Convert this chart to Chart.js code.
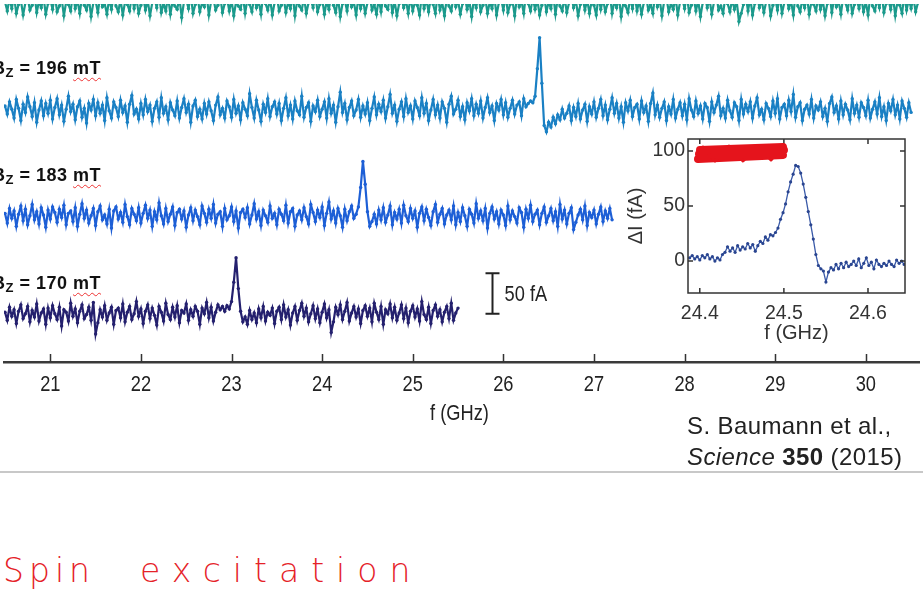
<!DOCTYPE html>
<html>
<head>
<meta charset="utf-8">
<script src="https://cdn.jsdelivr.net/npm/chart.js@4.4.0/dist/chart.umd.min.js"></script>
<style>
  html, body { margin: 0; padding: 0; background: #fff; overflow: hidden; }
  #wrap { position: relative; width: 923px; height: 591px; }
  canvas { position: absolute; }
  #main { left: 0; top: 0; }
  #inset { left: 610px; top: 130px; }
  .field { position: absolute; left: -8px; font: bold 18px 'Liberation Sans', Arial, sans-serif; line-height: 18px; letter-spacing: 0.5px; color: #111; white-space: nowrap; }
  .field sub { font-size: 13px; vertical-align: -3px; }
  .field .u { text-decoration: underline wavy #e33; text-decoration-thickness: 1px; text-underline-offset: 3px; }
  .cite { position: absolute; left: 687px; font: 24px 'Liberation Sans', Arial, sans-serif; line-height: 24px; letter-spacing: 0.4px; color: #222; white-space: nowrap; }
  #rule { position: absolute; left: 0; top: 471px; width: 923px; height: 2px; background: #c8c8c8; }
  .hand { position: absolute; top: 554px; font: 200 33px 'DejaVu Sans ExtraLight', 'DejaVu Sans', sans-serif; line-height: 33px; color: #e52228; white-space: nowrap; }
</style>
</head>
<body>
<div id="wrap">
  <canvas id="main" width="923" height="430"></canvas>
  <canvas id="inset" width="313" height="220"></canvas>
  <div class="field" style="top:59px">B<sub>Z</sub> = 196 <span class="u">mT</span></div>
  <div class="field" style="top:166px">B<sub>Z</sub> = 183 <span class="u">mT</span></div>
  <div class="field" style="top:274px">B<sub>Z</sub> = 170 <span class="u">mT</span></div>
  <div class="cite" style="top:414px">S. Baumann et al.,</div>
  <div class="cite" style="top:445px"><i>Science</i> <b>350</b> (2015)</div>
  <div id="rule"></div>
  <div class="hand" style="left:3px;letter-spacing:5px">Spin</div>
  <div class="hand" style="left:140px;letter-spacing:12px">excitation</div>
</div>
<script>
// frequency grid of the stacked traces (GHz)
const fStep = 0.025;
const fStart = 20.5;

// trace deviations in fA, one array per field (top trace is cut off)
const traceTop = [
  5, -6, 9, -3, 12, -9, 2, 7, -11, 4, 10, -5, 1, 14, -8, 6, -2, 11, -10, 3,
  8, -4, 13, -7, 0, 9, -12, 5, 2, -6, 15, -3, 7, -9, 11, 1, -5, 10, -13, 4,
  6, -8, 12, -1, 3, -10, 9, -4, 14, 0, -7, 8, -11, 5, 2, -6, 13, -3, 10, -9,
  1, 11, -5, 7, -12, 4, 9, -2, 15, -8, 3, -6, 12, -10, 6, 0, -4, 10, -14, 5,
  8, -3, 13, -9, 2, 11, -7, 4, -1, 14, -11, 6, 9, -5, 1, 12, -8, 3, 10, -6,
  7, -12, 5, 0, -4, 13, -9, 8, 2, -7, 11, -2, 6, -10, 15, 3, -5, 9, -11, 4,
  12, -6, 1, 10, -8, 5, -3, 14, -12, 7, 0, -5, 11, -9, 4, 8, -2, 13, -7, 2,
  9, -10, 6, -4, 15, 1, -8, 11, -13, 3, 7, -6, 12, -1, 5, -11, 10, -3, 8, -9,
  4, 13, -5, 2, -10, 9, -7, 12, 0, -4, 14, -8, 6, -12, 3, 10, -2, 7, -9, 11,
  -6, 5, 1, -11, 13, -3, 8, -7, 10, 2, -9, 15, -5, 4, -12, 9, 0, -6, 12, -1,
  7, -10, 3, 11, -4, 6, -13, 8, -2, 14, -7, 1, 10, -9, 5, -3, 12, -11, 4, 9,
  -5, 13, -8, 2, 7, -12, 11, -1, 6, -9, 15, 3, -6, 10, -4, 8, -11, 1, 12, -7,
  5, -3, 14, -10, 9, 0, -6, 11, -8, 4, 13, -2, 7, -12, 2, 10, -5, 8, -9, 6,
  1, -11, 12, -4, 9, -7, 3, 15, -9, 6, -2, 11, -13, 5, 0, -8, 10, -3, 13, -6,
  7, -10, 4, 12, -5, 2, -9, 14, -1, 8, -12, 6, 10, -7, 3, -4, 11, -11, 5, 9,
  -3, 13, -8, 1, 10, -6, 7, -13, 4, 12, -2, 9, -10, 5, 15, -5, 0, -9, 11, 3,
  -7, 8, -4, 6, -19, -9, 2, 12, -6, 10, -11, 3, 14, -2, 7, -8, 5, 11, -12, 1,
  9, -5, 13, -9, 4, 10, -3, 6, -11, 15, 0, -7, 8, -2, 12, -10, 5, 2, -6, 11,
  -4, 7, -12, 3, 14, -8, 9, -1, 6, -10, 11, 4, -5, 13, -9, 2, 8, -3, 10, -7,
  5, -11, 12, 0, -6, 9, -2, 15, -8, 3, 7, -4, 11, -12, 6, 1, -9, 13, -5, 8,
  -3, 10, -7, 4, 12
];
const trace196 = [
  6, -4, 11, 2, -9, 14, 3, -12, 8, -2, 17, 5, -7, 10, -14, 1, 12, -6, 9, -3,
  13, -10, 4, 15, -5, 7, -13, 2, 18, -1, 8, -11, 5, 12, -8, 3, -15, 9, 1, 14,
  -6, 10, -3, 7, -12, 16, 0, -9, 11, 4, -7, 13, -2, 6, -14, 8, 19, -4, 2, -10,
  9, -5, 14, -1, 7, -13, 3, 11, -8, 16, -3, 5, -11, 10, 1, -6, 12, -9, 4, 15,
  -2, 8, -14, 6, 13, -7, 2, -10, 9, -4, 11, 0, -12, 7, 17, -5, 3, -9, 12, 5,
  -8, 14, -3, 6, -11, 10, 2, -6, 21, 4, -9, 13, 1, -13, 8, -2, 15, -7, 5, 11,
  -4, 9, -12, 3, 16, -6, 7, -10, 12, 0, -5, 18, -8, 4, 10, -13, 6, -1, 13, -7,
  2, 11, -9, 15, -3, 7, -14, 5, 23, -2, 9, -11, 4, 12, -6, 1, 14, -8, 6, -4,
  10, -12, 3, 17, -5, 8, -1, 13, -9, 5, 20, -3, 7, -13, 2, 11, -7, 15, -2, 6,
  -10, 12, 4, -6, 16, -3, 9, -12, 1, 14, -5, 7, -9, 11, 3, -14, 8, 18, -4, 2,
  13, -7, 5, -11, 10, 0, 15, -6, 8, -3, 12, -9, 4, 16, -2, 6, -12, 9, 1, 14,
  -5, 10, -8, 3, 13, -4, 7, 11, -6, 15, 5, 9, 12, 10, 18, 52, 90, 34, -18, -26,
  -14, -20, -8, -16, -5, -11, 2, -9, -3, 6, -12, 4, -7, 9, -10, 1, 8, -13, 5, -4,
  11, -8, 3, 14, -6, 7, -11, 2, 16, -3, 9, -9, 5, -14, 10, 0, 13, -7, 4, 8,
  -10, 12, -2, 6, -13, 9, 22, -5, 7, -8, 3, 11, -12, 5, -4, 14, -9, 2, 10, -6,
  8, -11, 15, 1, -7, 12, -3, 6, -10, 9, 4, -13, 11, -2, 7, 18, -6, 3, -9, 13,
  0, -8, 10, 5, -12, 14, -4, 8, -1, 11, -9, 6, 16, -5, 2, -11, 9, 3, -7, 12,
  -3, 15, -10, 4, 8, -6, 13, -1, 20, -8, 5, 10, -12, 2, 7, -4, 14, -9, 6, 1,
  11, -7, 3, -13, 9, 17, -2, 6, -10, 12, -5, 8, 1, -11, 15, -3, 7, -8, 10, 4,
  -6, 13, -9, 2, 11, -4, 16, -7, 5, -12, 9, 0, 14, -5, 7, -10, 12, 3, -8, 10,
  -2
];
const trace183 = [
  4, -8, 10, -2, 7, -12, 3, 13, -5, 9, -10, 1, 15, -4, 6, -9, 11, 2, -13, 8,
  -3, 12, 5, -7, 9, -1, 14, -10, 4, 7, -6, 11, -12, 3, 16, -2, 8, -8, 1, 10,
  -11, 6, 13, -4, 2, -9, 9, -14, 7, 12, -3, 5, -7, 15, 0, -10, 10, 3, -5, 11,
  -8, 4, 14, -2, 8, -12, 6, -4, 17, 1, -9, 10, -6, 3, 12, -11, 5, 9, -3, 7,
  -13, 2, 11, -5, 8, 0, -10, 13, 4, -7, 9, -2, 15, -8, 3, 6, -12, 10, -4, 1,
  12, -6, 7, -14, 5, 9, -1, 11, -9, 2, 16, -3, 6, -11, 8, 1, -7, 13, -2, 4,
  -10, 9, 3, -5, 14, -8, 6, 10, -12, 2, 7, -4, 11, 0, -9, 15, 5, -6, 8, -1,
  12, -11, 4, 18, -3, 7, -8, 10, 1, -13, 9, -5, 6, 13, -2, 3, 12, 36, 68, 40,
  6, -12, -6, 3, -9, 8, -4, 11, -7, 2, 13, -10, 5, -3, 9, -8, 14, 1, -6, 10,
  -2, 7, -13, 4, 12, -5, 9, -1, -11, 6, 15, -7, 3, 10, -9, 2, 8, -4, 13, -10,
  5, -6, 11, 1, -12, 9, 3, -8, 16, -2, 7, -5, 10, -14, 4, 12, -3, 6, -9, 8,
  2, -11, 13, -4, 7, 0, -8, 11, 5, -13, 9, -2, 14, -6, 3, 8, -10, 4, 12, -7,
  1, 10, -5, 6, -12, 15, -3, 8, -9, 4, 11, -16, -7, 2, 9, -4, 13, -11, 5, -1,
  8, -9, 3, 12, -6, 7, -2, 10, -4
];
const trace170 = [
  3, -7, 9, -2, 6, -11, 4, 12, -5, 1, 10, -9, 5, -3, 13, -8, 2, 7, -12, 8,
  -4, 11, 1, -6, 9, -14, 6, 3, -8, 14, -2, 7, -10, 4, 12, -5, 0, 9, -7, 15,
  -24, -10, 6, -3, 11, -7, 2, 9, -12, 5, 8, -4, 13, -9, 3, 10, -6, 1, 16, -2,
  7, -11, 4, 12, -5, 8, -1, -13, 10, 3, -8, 14, 0, -6, 9, -3, 11, -10, 5, 2,
  13, -7, 6, -2, 10, 4, -12, 8, 1, 15, -4, 9, -8, 3, 12, 6, 10, 4, 11, 7,
  16, 40, 70, 32, 4, -9, -3, -12, 5, -6, 2, -10, 7, -4, 10, -8, 3, -1, 8, -11,
  4, 9, -6, 12, -3, 6, -13, 2, 10, -7, 5, 14, -2, 8, -9, 1, 11, -5, 7, -10,
  3, 13, -4, 6, -22, -9, 9, 0, 12, -6, 4, 15, -8, 2, 10, -3, 7, -11, 5, 11,
  -2, 8, -9, 14, 3, -6, 10, -12, 6, 1, 13, -4, 9, -7, 2, 12, -5, 8, -10, 4,
  11, -3, 7, -8, 16, 0, -6, 9, -11, 5, 12, -2, 6, -9, 3, 10, -5, 14, -7, 2,
  8
];

// inset: zoom on the resonance
const insetStart = 24.388;
const insetStep = 0.003;
const insetTrace = [
  3, 5, 2, 4, 1, 5, 3, 6, 2, 4,
  0, 3, 1, 6, 8, 13, 9, 12, 8, 14,
  10, 13, 11, 16, 12, 15, 9, 14, 18, 16,
  22, 19, 24, 23, 26, 30, 38, 44, 52, 63,
  72, 79, 87, 86, 80, 70, 58, 45, 33, 20,
  6, -4, -7, -9, -19, -10, -6, -8, -3, -7,
  -2, -6, -1, -5, -3, 0, -4, 2, -6, -2,
  3, -4, -1, -7, 1, -3, -5, -2, -4, 0,
  -3, -5, 1, -2, 0, -3
];

// vertical offsets of the stacked traces (fA)
const offsets = { top: 439, t196: 309.8, t183: 179.3, t170: 58.5 };
const colors = { top: '#1b9a8c', t196: '#1a80c4', t183: '#1d5fd6', t170: '#24206e' };

const sans = "'Liberation Sans', Arial, sans-serif";

function pts(vals, start, step, off) {
  return vals.map((v, i) => ({ x: start + i * step, y: v + off }));
}
function traceSet(vals, key) {
  return {
    data: pts(vals, fStart, fStep, offsets[key]),
    borderColor: colors[key],
    backgroundColor: colors[key],
    borderWidth: 2.2,
    pointRadius: 1.7,
    pointBorderWidth: 0,
  };
}
// narrow (condensed) text like the original figure font
function narrowText(ctx, text, x, y, size, align) {
  ctx.save();
  ctx.translate(x, y);
  ctx.scale(0.83, 1);
  ctx.font = size + 'px ' + sans;
  ctx.textAlign = align;
  ctx.textBaseline = 'middle';
  ctx.fillText(text, 0, 0);
  ctx.restore();
}

const mainMarks = {
  id: 'mainMarks',
  afterDraw(chart) {
    const { ctx, chartArea, scales: { x, y } } = chart;
    const b = chartArea.bottom;
    ctx.save();
    ctx.strokeStyle = '#333';
    ctx.fillStyle = '#222';
    ctx.lineWidth = 1.5;
    ctx.beginPath();
    x.ticks.forEach(t => {
      const px = Math.round(x.getPixelForValue(t.value)) + 0.5;
      ctx.moveTo(px, b);
      ctx.lineTo(px, b - 8);
    });
    ctx.stroke();
    x.ticks.forEach(t => narrowText(ctx, t.label, x.getPixelForValue(t.value), b + 23, 22, 'center'));
    narrowText(ctx, 'f (GHz)', (x.left + x.right) / 2 - 2, b + 52, 22, 'center');
    // 50 fA scale bar
    const bx = Math.round(x.getPixelForValue(25.88)) + 0.5;
    const y0 = y.getPixelForValue(59.4);
    const y1 = y.getPixelForValue(59.4 + 50);
    ctx.strokeStyle = '#222';
    ctx.lineWidth = 2;
    ctx.beginPath();
    ctx.moveTo(bx, y0); ctx.lineTo(bx, y1);
    ctx.moveTo(bx - 7, y0); ctx.lineTo(bx + 7, y0);
    ctx.moveTo(bx - 7, y1); ctx.lineTo(bx + 7, y1);
    ctx.stroke();
    narrowText(ctx, '50 fA', bx + 12, (y0 + y1) / 2 + 1, 22, 'left');
    ctx.restore();
  }
};

new Chart(document.getElementById('main'), {
  type: 'line',
  data: {
    datasets: [
      traceSet(traceTop, 'top'),
      traceSet(trace196, 't196'),
      traceSet(trace183, 't183'),
      traceSet(trace170, 't170'),
    ]
  },
  options: {
    responsive: false,
    animation: false,
    layout: { padding: 0 },
    elements: { line: { tension: 0 } },
    plugins: { legend: { display: false }, tooltip: { enabled: false } },
    scales: {
      x: {
        type: 'linear',
        min: 20.489,
        max: 30.587,
        grid: { display: false, drawTicks: false },
        border: { display: true, color: '#3a3a3a', width: 2.5 },
        ticks: { display: false, stepSize: 1, includeBounds: false },
        afterFit(scale) {
          scale.height = 68;
          scale.paddingLeft = 0;
          scale.paddingRight = 0;
        }
      },
      y: { display: false, min: 0, max: 441.5 }
    }
  },
  plugins: [mainMarks]
});

const insetFrame = {
  id: 'insetFrame',
  afterDraw(chart) {
    const { ctx, chartArea: a, scales: { x, y } } = chart;
    ctx.save();
    ctx.strokeStyle = '#333';
    ctx.lineWidth = 1.5;
    ctx.strokeRect(a.left, a.top, a.right - a.left, a.bottom - a.top);
    ctx.beginPath();
    x.ticks.forEach(t => {
      const px = x.getPixelForValue(t.value);
      ctx.moveTo(px, a.bottom); ctx.lineTo(px, a.bottom - 5);
      ctx.moveTo(px, a.top); ctx.lineTo(px, a.top + 5);
    });
    y.ticks.forEach(t => {
      const py = y.getPixelForValue(t.value);
      ctx.moveTo(a.left, py); ctx.lineTo(a.left + 5, py);
      ctx.moveTo(a.right, py); ctx.lineTo(a.right - 5, py);
    });
    ctx.stroke();
    // field label, crossed out with a red scribble
    const tx = a.left + 9, ty = a.top + 15;
    ctx.font = 'bold 17px ' + sans;
    ctx.textAlign = 'left';
    ctx.textBaseline = 'middle';
    ctx.fillStyle = '#222';
    ctx.fillText('B = 170 mT', tx, ty);
    ctx.strokeStyle = '#e5141c';
    ctx.lineCap = 'round';
    ctx.lineJoin = 'round';
    ctx.lineWidth = 8;
    ctx.beginPath();
    ctx.moveTo(tx + 1, ty + 5); ctx.lineTo(tx + 86, ty + 1);
    ctx.moveTo(tx + 2, ty); ctx.lineTo(tx + 87, ty - 4);
    ctx.moveTo(tx + 3, ty - 4); ctx.lineTo(tx + 86, ty - 7);
    ctx.stroke();
    ctx.lineWidth = 3;
    ctx.beginPath();
    ctx.moveTo(tx + 6, ty - 7); ctx.lineTo(tx + 18, ty + 7); ctx.lineTo(tx + 32, ty - 8);
    ctx.lineTo(tx + 46, ty + 7); ctx.lineTo(tx + 60, ty - 8); ctx.lineTo(tx + 74, ty + 6);
    ctx.lineTo(tx + 86, ty - 9);
    ctx.stroke();
    ctx.restore();
  }
};

new Chart(document.getElementById('inset'), {
  type: 'line',
  data: {
    datasets: [{
      data: pts(insetTrace, insetStart, insetStep, 0),
      borderColor: '#3a5aa8',
      backgroundColor: '#2a4590',
      borderWidth: 1.3,
      pointRadius: 1.6,
      pointBorderWidth: 0,
    }]
  },
  options: {
    responsive: false,
    animation: false,
    layout: { padding: { top: 9, right: 18, left: 0, bottom: 0 } },
    elements: { line: { tension: 0 } },
    plugins: { legend: { display: false }, tooltip: { enabled: false } },
    scales: {
      x: {
        type: 'linear',
        min: 24.386,
        max: 24.644,
        grid: { display: false, drawTicks: false },
        border: { display: false },
        ticks: {
          stepSize: 0.1,
          includeBounds: false,
          padding: 9,
          color: '#333',
          font: { family: sans, size: 19.5 },
        },
        title: {
          display: true,
          text: 'f (GHz)',
          color: '#333',
          font: { family: sans, size: 20 },
          padding: { top: 0, bottom: 5 },
        },
        afterFit(scale) {
          scale.height = 57;
          scale.paddingLeft = 0;
          scale.paddingRight = 0;
        }
      },
      y: {
        min: -29,
        max: 111,
        grid: { display: false, drawTicks: false },
        border: { display: false },
        ticks: {
          stepSize: 50,
          includeBounds: false,
          padding: 3,
          color: '#333',
          font: { family: sans, size: 19.5 },
        },
        title: {
          display: true,
          text: 'ΔI (fA)',
          color: '#333',
          font: { family: sans, size: 20 },
          padding: { top: 14, bottom: 0 },
        },
        afterFit(scale) {
          scale.width = 78;
          scale.paddingTop = 0;
          scale.paddingBottom = 0;
        }
      }
    }
  },
  plugins: [insetFrame]
});
</script>
</body>
</html>
